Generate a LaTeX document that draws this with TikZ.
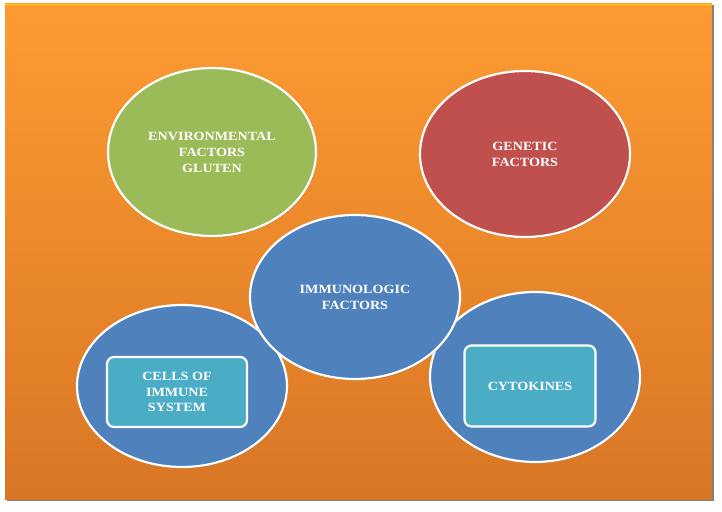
\documentclass[tikz,border=0pt]{standalone}
\usepackage{fontspec}
\setmainfont{Liberation Serif}
\newfontfamily\widefont[FakeStretch=1.12]{Liberation Serif}
\usetikzlibrary{shapes.geometric,shadows}
\definecolor{bgtop}{HTML}{FD9B32}
\definecolor{bgbot}{HTML}{D97625}
\definecolor{greenf}{HTML}{9BBB59}
\definecolor{redf}{HTML}{C0504D}
\definecolor{bluef}{HTML}{4F81BD}
\definecolor{aquaf}{HTML}{4BACC6}
\tikzset{
  blob/.style={ellipse, draw=white, line width=2.2pt, inner sep=0pt,
    drop shadow={shadow xshift=0.8pt, shadow yshift=-1.2pt, opacity=0.45, fill=black!70},
    text=white, font=\widefont\bfseries\fontsize{12.6}{16}\selectfont, align=center},
  tag/.style={rectangle, rounded corners=7pt, draw=white, line width=2.2pt, fill=aquaf,
    drop shadow={shadow xshift=0.8pt, shadow yshift=-1.2pt, opacity=0.4, fill=black!70},
    text=white, font=\widefont\bfseries\fontsize{12.6}{15.5}\selectfont, align=center, inner sep=0pt}
}
\begin{document}
\begin{tikzpicture}[x=1pt,y=-1pt]
\useasboundingbox (0,0) rectangle (722,511);
\fill[black!50] (6.5,5.5) rectangle (714,500.5);
\shade[top color=bgtop, bottom color=bgbot] (5,4) rectangle (712,499);
\draw[yellow!70!orange, line width=1pt] (5,4.5) -- (712,4.5);
\node[blob, fill=greenf, minimum width=208pt, minimum height=168pt] (env) at (212,152) {ENVIRONMENTAL\\FACTORS\\GLUTEN};
\node[blob, fill=redf, minimum width=210pt, minimum height=166pt] (gen) at (525,154) {GENETIC\\FACTORS};
\node[blob, fill=bluef, minimum width=210pt, minimum height=162pt] (cells) at (182,386) {};
\node[blob, fill=bluef, minimum width=210pt, minimum height=170pt] (cyto) at (535,377) {};
\node[blob, fill=bluef, minimum width=210pt, minimum height=164pt] (imm) at (355,297) {IMMUNOLOGIC\\FACTORS};
\node[tag, minimum width=140pt, minimum height=70pt] (cellsbox) at (177,392) {CELLS OF\\IMMUNE\\SYSTEM};
\node[tag, minimum width=131pt, minimum height=81pt] (cytobox) at (530,386) {CYTOKINES};
\end{tikzpicture}
\end{document}
